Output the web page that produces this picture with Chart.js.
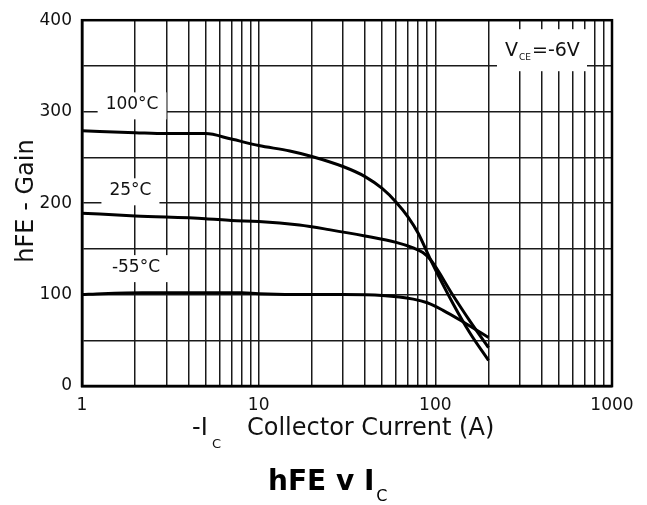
<!DOCTYPE html>
<html>
<head>
<meta charset="utf-8">
<script src="https://cdn.jsdelivr.net/npm/chart.js@4/dist/chart.umd.min.js"></script>
<style>
  html, body { margin: 0; padding: 0; background: #fff; }
  #wrap { width: 647px; height: 505px; }
</style>
</head>
<body>
<div id="wrap"><canvas id="c" width="647" height="505"></canvas></div>
<script>
// ---- data ----
const currents100 = [1, 2, 3, 5, 7, 10, 15, 20, 30, 40, 50, 60, 70, 80, 94, 126, 157, 200];
const hfe100      = [279, 277, 276, 276, 270, 263, 257, 251, 240, 229, 216, 201, 185, 167, 138, 90, 58, 28];
const currents25  = [1, 2, 5, 7, 10, 17, 25, 40, 60, 75, 85, 94, 126, 157, 200];
const hfe25       = [189, 186, 183, 181, 180, 176, 171, 164, 157, 151, 146, 138, 99, 71, 42];
const currentsM55 = [1, 1.3, 2.2, 5, 8, 10, 20, 30, 50, 75, 90, 110, 144, 200];
const hfeM55      = [100, 101, 102, 102, 102, 101, 100, 100, 99, 95, 91, 83, 70, 53];

const xGridValues = [1,2,3,4,5,6,7,8,9,10,20,30,40,50,60,70,80,90,100,200,300,400,500,600,700,800,900,1000];
const xTickLabels = [1, 10, 100, 1000];
const yTickLabels = [0, 100, 200, 300, 400];

const seriesLabels = ['100°C', '25°C', '-55°C'];
const labelPositions = [[1.92, 308], [1.88, 214], [2.02, 130]];
const conditionLabel = { main: 'V', sub: 'CE', rest: '=-6V' };

const FONT = '"DejaVu Sans", sans-serif';

function pts(xs, ys) { return xs.map((x, i) => ({ x: x, y: ys[i] })); }

const overlay = {
  id: 'overlay',
  beforeDatasetsDraw(chart) {
    const ctx = chart.ctx, xs = chart.scales.x, ys = chart.scales.y;
    ctx.save();
    ctx.font = '17px ' + FONT;
    ctx.textAlign = 'center';
    ctx.textBaseline = 'middle';
    seriesLabels.forEach((t, i) => {
      const px = xs.getPixelForValue(labelPositions[i][0]);
      const py = ys.getPixelForValue(labelPositions[i][1]);
      const w = ctx.measureText(t).width;
      ctx.fillStyle = '#fff';
      ctx.fillRect(px - w / 2 - 8, py - 12, w + 16, 27);
      ctx.fillStyle = '#111';
      ctx.fillText(t, px, py);
    });
    // V_CE box
    const a = chart.chartArea;
    ctx.fillStyle = '#fff';
    ctx.fillRect(a.right - 115, a.top + 9, 90, 42);
    ctx.fillStyle = '#111';
    ctx.textAlign = 'left';
    ctx.textBaseline = 'alphabetic';
    let x0 = a.right - 107;
    const base = a.top + 36;
    ctx.font = '19px ' + FONT;
    ctx.fillText(conditionLabel.main, x0, base);
    x0 += ctx.measureText(conditionLabel.main).width + 1;
    ctx.font = '9px ' + FONT;
    ctx.fillText(conditionLabel.sub, x0, base + 4);
    x0 += ctx.measureText(conditionLabel.sub).width + 1;
    ctx.font = '19px ' + FONT;
    ctx.fillText(conditionLabel.rest, x0, base);
    ctx.restore();
  },
  afterDatasetsDraw(chart) {
    const ctx = chart.ctx, a = chart.chartArea;
    ctx.save();
    ctx.strokeStyle = '#000';
    ctx.lineWidth = 2.5;
    ctx.strokeRect(a.left, a.top, a.right - a.left, a.bottom - a.top);
    ctx.restore();
  },
  afterDraw(chart) {
    const ctx = chart.ctx;
    ctx.save();
    ctx.fillStyle = '#111';
    ctx.textBaseline = 'alphabetic';
    ctx.textAlign = 'left';
    // x axis title
    ctx.font = '24px ' + FONT;
    ctx.fillText('-I', 192, 435);
    ctx.font = '13px ' + FONT;
    ctx.fillText('C', 212, 448);
    ctx.font = '24px ' + FONT;
    ctx.fillText('Collector Current (A)', 247, 435);
    // y axis title
    ctx.save();
    ctx.translate(33, 201);
    ctx.rotate(-Math.PI / 2);
    ctx.textAlign = 'center';
    ctx.font = '24px ' + FONT;
    ctx.fillText('hFE - Gain', 0, 0);
    ctx.restore();
    // chart title
    ctx.fillStyle = '#000';
    ctx.font = 'bold 28px ' + FONT;
    ctx.fillText('hFE v I', 268, 490);
    const w = ctx.measureText('hFE v I').width;
    ctx.font = '16px ' + FONT;
    ctx.fillText('C', 268 + w + 2, 501);
    ctx.restore();
  }
};

new Chart(document.getElementById('c'), {
  type: 'line',
  data: {
    datasets: [
      { label: seriesLabels[0], data: pts(currents100, hfe100) },
      { label: seriesLabels[1], data: pts(currents25, hfe25) },
      { label: seriesLabels[2], data: pts(currentsM55, hfeM55) }
    ].map(d => Object.assign(d, {
      borderColor: '#000', borderWidth: 3, pointRadius: 0,
      cubicInterpolationMode: 'monotone', fill: false
    }))
  },
  options: {
    responsive: false,
    animation: false,
    layout: { padding: { left: 0, right: 35, top: 16, bottom: 0 } },
    plugins: { legend: { display: false }, tooltip: { enabled: false }, title: { display: false } },
    scales: {
      x: {
        type: 'logarithmic', min: 1, max: 1000,
        afterBuildTicks: s => { s.ticks = xGridValues.map(v => ({ value: v })); },
        afterFit: s => { s.height = 119; },
        ticks: {
          autoSkip: false, maxRotation: 0, padding: 9, color: '#111',
          font: { family: FONT, size: 17 },
          callback: v => xTickLabels.includes(v) ? String(v) : ''
        },
        grid: { color: '#1a1a1a', lineWidth: 1.5, drawTicks: false },
        border: { display: true, color: '#000', width: 2.5 }
      },
      y: {
        min: 0, max: 400,
        afterBuildTicks: s => { const t = []; for (let v = 0; v <= 400; v += 50) t.push({ value: v }); s.ticks = t; },
        afterFit: s => { s.width = 82; },
        ticks: {
          autoSkip: false, padding: 10, color: '#111',
          font: { family: FONT, size: 17 },
          callback: v => yTickLabels.includes(v) ? String(v) : ''
        },
        grid: { color: '#1a1a1a', lineWidth: 1.5, drawTicks: false },
        border: { display: true, color: '#000', width: 2.5 }
      }
    }
  },
  plugins: [overlay]
});
</script>
</body>
</html>
